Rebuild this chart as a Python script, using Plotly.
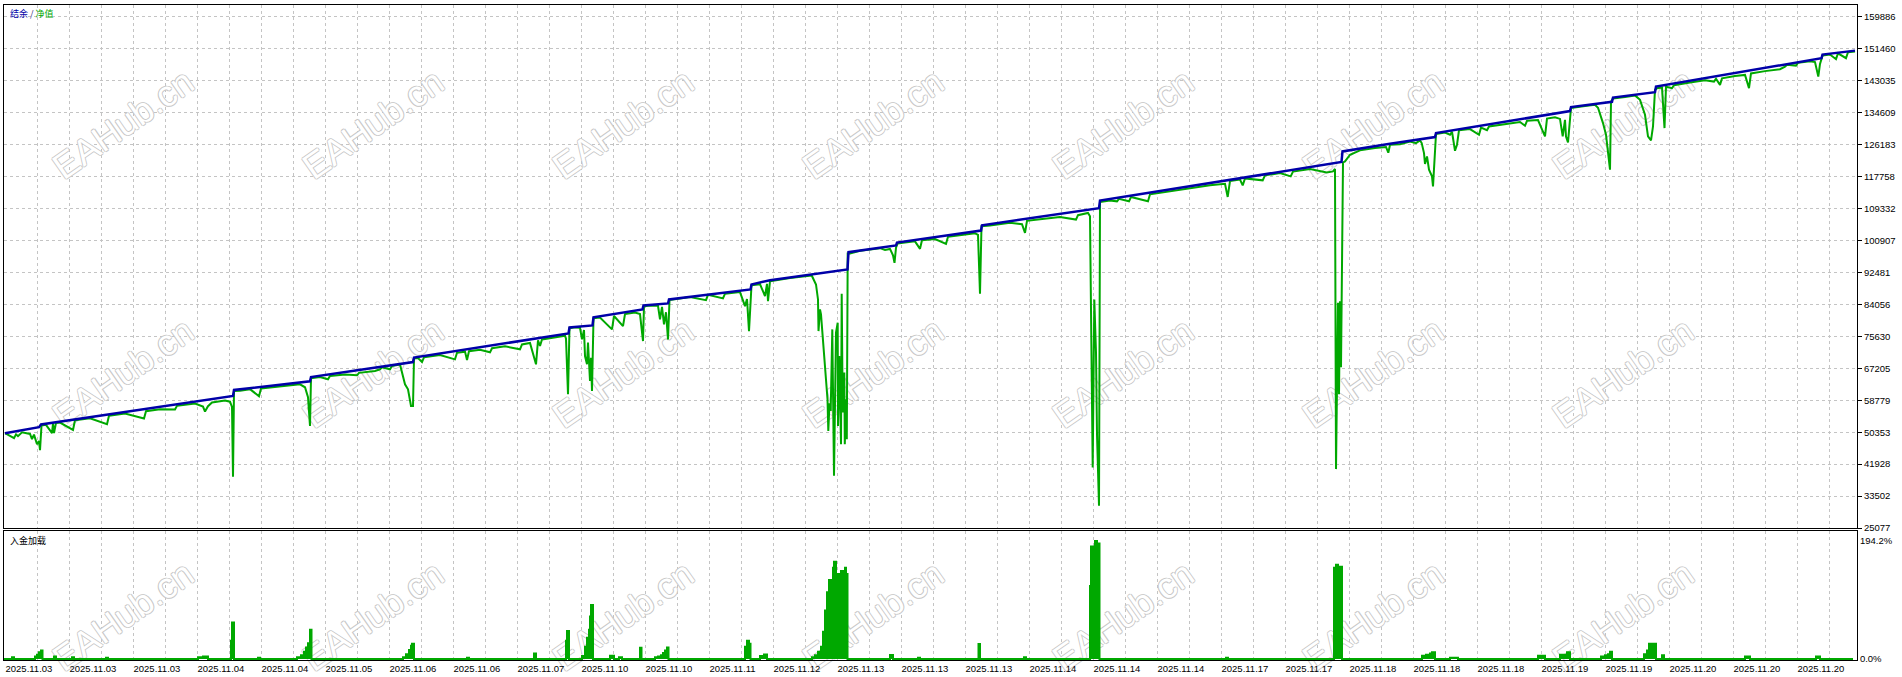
import plotly.graph_objects as go

# ---------------- data ----------------
balance_x = [5, 39, 41, 233, 234, 310, 311, 413, 414, 568.5, 569.5, 592.5, 593.5, 642.5, 643.5,
             668, 669, 750.5, 751.5, 770, 847.5, 848.5, 896, 897, 981, 982, 1099, 1100,
             1341.5, 1342.5, 1390, 1435, 1436, 1570, 1571, 1612, 1613, 1655, 1656,
             1821.5, 1822.5, 1855]
balance_y = [50090, 51665, 52374, 59910, 61490, 63780, 64910, 68860, 70020, 76420, 78000, 78530, 80640,
             82740, 83800, 84320, 85370, 88000, 89320, 90450, 93270, 97830, 99620, 100380,
             103540, 104930, 109460, 111440, 121630, 124420, 126450, 128210, 129260, 135060,
             136110, 137510, 138640, 140060, 141530, 149010, 149960, 151010]

equity_x = [5, 10, 14, 16, 18, 22, 27, 30, 32, 34, 37, 39, 40, 41.5, 46, 52, 53, 54, 56, 60, 73, 75,
            90, 107, 109, 125, 144, 146, 160, 175, 177, 195, 203, 205, 208, 212, 225, 230, 232, 233,
            234, 240, 250, 259, 261, 280, 295, 300, 305, 308, 310, 311, 320, 328, 330, 345, 357, 359,
            375, 380, 382, 390, 392, 400, 405, 408, 411, 413, 414, 418, 422, 424, 440, 455, 457, 465,
            467, 469, 480, 490, 492, 505, 520, 522, 530, 536, 538, 540, 542, 555, 565, 566, 568,
            569.5, 575, 580, 582, 584, 585, 587, 588, 590, 591, 592, 593.5, 600, 612, 614, 623, 625,
            635, 640, 643, 644, 650, 658, 660, 662, 664, 666, 668, 669.5, 690, 706, 708, 723, 725,
            740, 745, 747, 749, 751.5, 760, 765, 767, 768, 770, 790, 805, 811.7, 816, 818, 818.5,
            820, 821, 824, 826, 827.5, 828.3, 829.5, 830.7, 832.3, 834, 836, 837.7, 838, 839.3, 841,
            841.7, 842.7, 844.3, 844.8, 846, 846.8, 847.7, 850, 860, 870, 880, 885, 890, 893, 894.5,
            896, 897.5, 905, 915, 920, 922, 935, 946, 948, 960, 975, 978, 980, 981.5, 990, 1010,
            1022, 1025, 1027, 1040, 1060, 1076, 1078, 1088, 1090, 1092.7, 1094.3, 1096, 1097, 1099,
            1100, 1110, 1117, 1119, 1129, 1131, 1148, 1150, 1170, 1190, 1210, 1225, 1227.7, 1230,
            1240, 1242.7, 1245, 1262.7, 1265, 1280, 1290.7, 1293, 1310, 1326.7, 1333, 1335, 1336,
            1338, 1339, 1340, 1341, 1343, 1345, 1350, 1360, 1375, 1386, 1388.3, 1390, 1400, 1410,
            1416, 1420, 1421.7, 1424, 1425, 1427, 1429, 1432, 1433, 1434.5, 1436, 1445, 1450, 1452,
            1455, 1457, 1459, 1470, 1479, 1481, 1487, 1489, 1505, 1520, 1525, 1527, 1538, 1545, 1547,
            1555, 1560, 1562.7, 1565, 1566, 1568, 1569, 1571, 1585, 1595, 1598, 1603, 1606, 1608,
            1610, 1611, 1613, 1625, 1635, 1640, 1645, 1648, 1651, 1653, 1655, 1657, 1662, 1664.5,
            1666, 1672, 1674, 1690, 1705, 1714, 1716, 1720, 1722, 1735, 1745, 1749, 1751, 1765,
            1780, 1785, 1787, 1796, 1798, 1810, 1815, 1818.3, 1820, 1822.5, 1830, 1836, 1838, 1846,
            1848, 1855]
equity_y = [50090, 49300, 48770, 49800, 49300, 50300, 50100, 49900, 48510, 49700, 47190, 48000, 45610,
            52100, 52300, 50090, 52600, 50090, 52800, 52900, 50960, 53500, 54000, 52460, 54700,
            55300, 53960, 55900, 56400, 56330, 57300, 57900, 57100, 55800, 57200, 58200, 58700,
            58400, 57000, 38580, 61200, 61300, 61700, 59830, 61900, 62500, 62900, 62990, 62200,
            59570, 52010, 64600, 64900, 64310, 65200, 65600, 65360, 66000, 66500, 66940, 67500,
            66940, 67800, 68200, 62990, 61670, 57280, 57280, 69800, 69900, 68860, 70100, 70700,
            69570, 71300, 71600, 69390, 71700, 72100, 71420, 72500, 73000, 72210, 73500, 73900,
            68260, 74600, 73080, 74800, 75400, 75800, 75000, 60360, 77800, 78000, 77900, 74840,
            77300, 70440, 68260, 74000, 63860, 70000, 61230, 80400, 80600, 77470, 81000, 78340,
            81500, 81900, 81500, 74390, 83600, 83800, 83700, 80110, 83400, 78790, 82000, 74840,
            85200, 86000, 85190, 86600, 85640, 86900, 87300, 83610, 85500, 77020, 89100, 89400,
            86240, 89500, 84920, 90200, 91000, 91600, 91700, 89320, 85370, 77020, 82740, 81420,
            70440, 63440, 59040, 50700, 58000, 55960, 77470, 38850, 76600, 79240, 52010, 70440,
            47190, 86870, 55540, 66070, 47190, 59040, 48510, 97500, 97500, 98200, 98600, 98900,
            98400, 98700, 97000, 95030, 99000, 100100, 100400, 100700, 98720, 101000, 101300,
            100040, 101900, 102300, 102800, 102400, 86870, 104700, 104900, 105600, 105200, 102930,
            106100, 106500, 107100, 106440, 107600, 108200, 107300, 41060, 85370, 71420, 49830,
            30950, 111100, 111500, 111250, 111900, 111250, 112400, 111250, 113100, 113900, 114700,
            115500, 115900, 112410, 116600, 117000, 115470, 117300, 116790, 118100, 118700, 117840,
            119100, 119800, 118890, 119150, 119800, 40610, 84500, 60360, 84920, 67470, 121500,
            121790, 123550, 124700, 125300, 125600, 124080, 126200, 126300, 127000, 126600, 127300,
            126630, 123990, 121100, 123100, 119600, 117840, 115200, 120920, 129000, 129400, 128820,
            129600, 124600, 126180, 130000, 130300, 128820, 130700, 130000, 131000, 131700, 132200,
            131190, 132500, 132700, 128370, 133100, 133400, 133000, 128370, 132770, 128370, 126790,
            130000, 135900, 136400, 136700, 135930, 131900, 128820, 124000, 119600, 137580, 138400,
            138800, 139200, 138030, 134080, 128370, 127310, 131000, 140660, 141100, 141300, 130580,
            141500, 141100, 141900, 142600, 143200, 142850, 143600, 141980, 143700, 144300, 144600,
            141110, 145000, 145600, 146100, 146800, 147300, 147060, 147800, 148200, 148000, 144170,
            147500, 149700, 150000, 148750, 150300, 149010, 150600, 150800]

# deposit load (%), step series
load_x = [4, 12, 14, 35, 37, 39, 41, 42.5, 54, 56, 72, 74, 106, 108, 198, 203, 208, 231, 232, 234,
          258, 260, 297, 301, 304, 306, 308, 310, 311.5, 403, 406, 409, 411, 412, 414, 467, 469,
          534, 536, 566, 567, 569, 582, 585, 587, 589, 590, 591, 593, 610, 614, 619, 622, 640,
          641.5, 655, 658, 661, 663, 665, 667, 668.5, 745, 747, 749, 750.5, 760, 764, 767, 812,
          815, 818, 821, 823, 825, 827, 829, 831, 833, 834, 836, 838, 840, 841, 843, 845, 846,
          847.5, 890, 893, 918, 920, 978.5, 980, 1024, 1026, 1090, 1091, 1093, 1095, 1097, 1099.5,
          1226, 1228, 1334, 1336, 1338, 1340, 1342, 1422, 1426, 1430, 1432, 1435, 1450, 1458,
          1538, 1545, 1560, 1564, 1567, 1570, 1601, 1605, 1608, 1610, 1612, 1644, 1647, 1649,
          1654, 1656, 1662, 1664, 1745, 1750, 1816, 1820, 1853]
load_y = [0, 3, 0, 4, 7, 11, 14, 0, 4, 0, 3, 0, 2, 0, 3, 4, 0, 30, 60, 0,
          2, 0, 3, 6, 12, 19, 26, 48, 0, 3, 8, 15, 22, 25, 0, 2, 0,
          9, 0, 30, 46, 0, 5, 20, 35, 48, 70, 89, 0, 5.5, 0, 3, 0, 18.7,
          0, 3, 4, 6, 10, 14, 19, 0, 20, 30, 25, 0, 5, 7.5, 0, 3,
          6, 12, 20, 45, 80, 110, 130, 120, 150, 160, 125, 140, 110, 145, 130, 150, 140,
          0, 6.6, 0, 2, 0, 24.7, 0, 3, 0, 120, 185, 170, 194.2, 190, 0,
          2, 0, 150, 155, 150, 152, 0, 5.5, 7, 9, 11, 0, 2, 0,
          5.5, 0, 7, 7, 11, 0, 4, 6, 8, 12, 0, 8, 14, 25,
          25, 0, 6, 0, 4, 0, 4, 0, 0]

y_ticks = [159886, 151460, 143035, 134609, 126183, 117758, 109332, 100907, 92481,
           84056, 75630, 67205, 58779, 50353, 41928, 33502, 25077]
date_labels = ["2025.11.03", "2025.11.03", "2025.11.03", "2025.11.04", "2025.11.04", "2025.11.05",
               "2025.11.06", "2025.11.06", "2025.11.07", "2025.11.10", "2025.11.10", "2025.11.11",
               "2025.11.12", "2025.11.13", "2025.11.13", "2025.11.13", "2025.11.14", "2025.11.14",
               "2025.11.14", "2025.11.17", "2025.11.17", "2025.11.18", "2025.11.18", "2025.11.18",
               "2025.11.19", "2025.11.19", "2025.11.20", "2025.11.20", "2025.11.20"]
load_max_label = 194.2

# ---------------- figure geometry ----------------
W, H = 1902, 677
ML, MR, MT, MB = 4, 45, 5, 17
MAIN_TOP, MAIN_BOT, LOW_TOP, LOW_BOT = 5, 528, 531, 660
Y_RANGE = [25077, 163046]
Y2_RANGE = [-1.65, 210.66]
BLUE = "#0000A8"
GREEN = "#00A800"
GRID = "#C4C4C4"
FONT = "Liberation Sans"

def main_val(py):
    return Y_RANGE[1] - (py - MAIN_TOP) * (Y_RANGE[1] - Y_RANGE[0]) / (MAIN_BOT - MAIN_TOP)

def low_val(py):
    return Y2_RANGE[1] - (py - LOW_TOP) * (Y2_RANGE[1] - Y2_RANGE[0]) / (LOW_BOT - LOW_TOP)

fig = go.Figure()

# watermark "EAHub.cn" (hollow outlined text), drawn first so the data stays on top
WM_SHADOW = "1px 0 0 #c8c8c8, -1px 0 0 #c8c8c8, 0 1px 0 #c8c8c8, 0 -1px 0 #c8c8c8"
wm_px_x = [123 + 250 * i for i in range(8)]
wm_font = dict(family="Liberation Sans", size=36, color="white", shadow=WM_SHADOW)
for py, axes, conv in [(124, ("x", "y"), main_val), (373, ("x", "y"), main_val), (616, ("x2", "y2"), low_val)]:
    base = conv(py + 60)
    top = conv(py - 60)
    fig.add_trace(go.Bar(
        x=wm_px_x, y=[top - base] * len(wm_px_x), base=[base] * len(wm_px_x), width=170,
        marker=dict(color="rgba(0,0,0,0)", line=dict(width=0)),
        text=["EAHub.cn"] * len(wm_px_x), textposition="inside", insidetextanchor="middle",
        textangle=-35, constraintext="none", cliponaxis=False, textfont=wm_font,
        xaxis=axes[0], yaxis=axes[1], hoverinfo="skip", showlegend=False,
    ))

fig.add_trace(go.Scatter(x=equity_x, y=equity_y, mode="lines", line=dict(color=GREEN, width=2),
                         xaxis="x", yaxis="y", hoverinfo="skip"))
fig.add_trace(go.Scatter(x=balance_x, y=balance_y, mode="lines", line=dict(color=BLUE, width=2.5),
                         xaxis="x", yaxis="y", hoverinfo="skip"))
fig.add_trace(go.Scatter(x=load_x, y=load_y, mode="lines", line=dict(color=GREEN, width=2, shape="hv"),
                         fill="tozeroy", fillcolor=GREEN, xaxis="x2", yaxis="y2", hoverinfo="skip"))

grid_vals = [5 + 32 * k for k in range(58)]
grid_text = []
for k in range(58):
    grid_text.append(date_labels[k // 2] if k % 2 == 0 and k // 2 < len(date_labels) else "")

axis_common = dict(showline=True, mirror=True, linecolor="black", linewidth=1, zeroline=False)
plot_h = H - MT - MB

fig.update_layout(
    width=W, height=H, margin=dict(l=ML, r=MR, t=MT, b=MB),
    paper_bgcolor="white", plot_bgcolor="white", showlegend=False, barmode="overlay",
    font=dict(family=FONT, size=9.5, color="black"),
    xaxis=dict(domain=[0, 1], range=[4, 1857], anchor="y", tickmode="array", tickvals=grid_vals,
               showticklabels=False, ticks="", showgrid=True, gridcolor=GRID, griddash="3px,3px",
               gridwidth=1, automargin=False, **axis_common),
    yaxis=dict(domain=[(H - MB - MAIN_BOT) / plot_h, 1], range=Y_RANGE, side="right", anchor="x",
               tickmode="array", tickvals=y_ticks, ticktext=[str(v) for v in y_ticks],
               ticks="outside", ticklen=4, tickcolor="black", showgrid=True, gridcolor=GRID,
               griddash="3px,3px", gridwidth=1, automargin=False, tickfont=dict(size=9.5),
               **axis_common),
    xaxis2=dict(domain=[0, 1], range=[4, 1857], anchor="y2", matches="x", tickmode="array",
                tickvals=grid_vals, ticktext=grid_text, ticklabelposition="outside right",
                ticks="", showgrid=True, gridcolor=GRID, griddash="3px,3px", gridwidth=1,
                automargin=False, tickfont=dict(size=9.5), ticklabelstandoff=0, **axis_common),
    yaxis2=dict(domain=[0, (H - MB - LOW_TOP) / plot_h], range=Y2_RANGE, side="right", anchor="x2",
                tickmode="array", tickvals=[0, load_max_label],
                ticktext=["0.0%", f"{load_max_label:.1f}%"], ticks="", showgrid=False,
                automargin=False, tickfont=dict(size=9.5), **axis_common),
)

def px_x(p):
    return (p - ML) / (W - ML - MR)

def px_y(p):
    return (H - MB - p) / plot_h

annotations = [
    dict(x=px_x(8), y=px_y(13), xref="paper", yref="paper", xanchor="left", yanchor="middle",
         showarrow=False,
         text=f'<span style="color:{BLUE}">结余</span><span style="color:#303080"> / </span>'
              f'<span style="color:{GREEN}">净值</span>',
         font=dict(family="Noto Sans CJK SC", size=9)),
    dict(x=px_x(8), y=px_y(540), xref="paper", yref="paper", xanchor="left", yanchor="middle",
         showarrow=False, text="入金加载", font=dict(family="Noto Sans CJK SC", size=9, color="black")),
]
fig.update_layout(annotations=annotations)

fig.write_html(
    "out.html",
    config={"displayModeBar": False},
    post_script="document.body.style.margin='0';document.body.style.padding='0';"
                "document.documentElement.style.overflow='hidden';",
)
